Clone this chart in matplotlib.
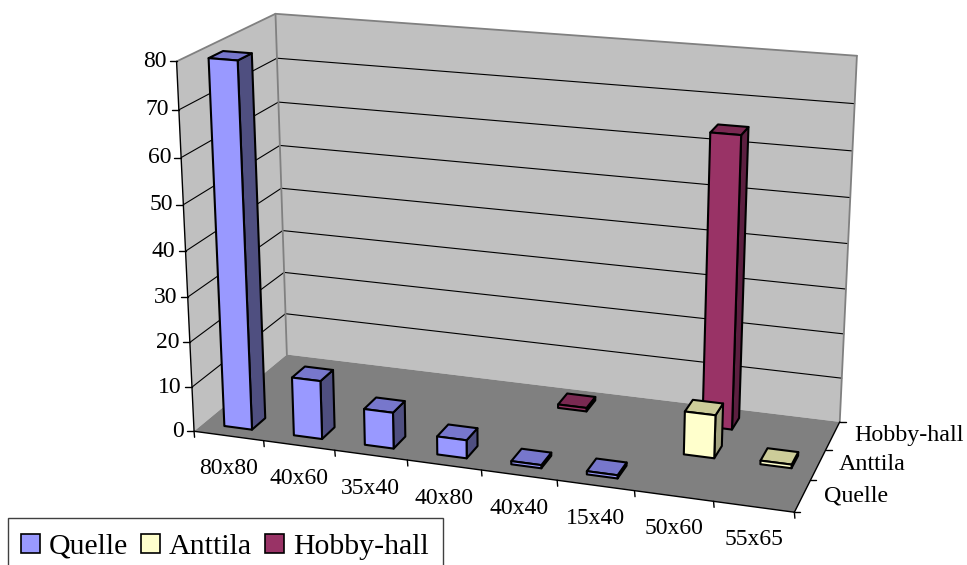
import numpy as np
import matplotlib
matplotlib.use("Agg")
import matplotlib.pyplot as plt
from matplotlib.patches import Patch, Polygon, Rectangle

categories = ["80x80", "40x60", "35x40", "40x80", "40x40", "15x40", "50x60", "55x65"]
series = ["Quelle", "Anttila", "Hobby-hall"]
quelle = [80, 13, 8, 4, 0.7, 0.7, 0, 0]
anttila = [0, 0, 0, 0, 0, 0, 9.5, 0.8]
hobby = [0, 0, 0, 0, 0.8, 0, 64.5, 0]
values = [quelle, anttila, hobby]
yticks = [0, 10, 20, 30, 40, 50, 60, 70, 80]

front = ["#9999FF", "#FFFFCC", "#993366"]
top = ["#7777CC", "#CCCC99", "#7A2952"]
side = ["#4F4F80", "#A3A380", "#5C1F40"]
VMAX = 80.0

plt.rcParams["font.family"] = ["Liberation Serif", "DejaVu Serif"]

# box corners on the page: (cat, depth, value) -> pixel, solved as one homography
corners = [
    ((0, 0, 0), (194, 431)),
    ((1, 0, 0), (794, 513)),
    ((1, 1, 0), (840, 421)),
    ((0, 1, 0), (287, 355)),
    ((0, 0, 1), (177, 61)),
    ((0, 1, 1), (275, 14)),
    ((1, 1, 1), (857, 56)),
]


def solve_view():
    rows = []
    for (a, b, c), (x, y) in corners:
        rows.append([a, b, c, 1, 0, 0, 0, 0, -x*a, -x*b, -x*c, -x])
        rows.append([0, 0, 0, 0, a, b, c, 1, -y*a, -y*b, -y*c, -y])
    m = np.linalg.svd(np.array(rows, dtype=float))[2][-1]
    return m.reshape(3, 4)


VIEW = solve_view()


def p(u, v, val=0.0):
    q = VIEW @ np.array([u, v, val / VMAX, 1.0])
    return q[0] / q[2], q[1] / q[2]


fig = plt.figure(figsize=(9.67, 5.65), dpi=100)
ax = fig.add_axes([0, 0, 1, 1])
ax.set_xlim(0, 967)
ax.set_ylim(565, 0)
ax.axis("off")


def face(pts, color, edge="none", lw=0.0, z=1):
    ax.add_patch(Polygon(pts, closed=True, facecolor=color, edgecolor=edge,
                         linewidth=lw, joinstyle="round", zorder=z))


def line(a, b, color="black", lw=0.8, z=2):
    ax.plot([a[0], b[0]], [a[1], b[1]], color=color, lw=lw, zorder=z,
            solid_capstyle="round")


# walls and floor
face([p(0, 0), p(0, 1), p(0, 1, VMAX), p(0, 0, VMAX)], "#C0C0C0")
face([p(0, 1), p(1, 1), p(1, 1, VMAX), p(0, 1, VMAX)], "#C0C0C0")
face([p(0, 0), p(1, 0), p(1, 1), p(0, 1)], "#808080")

for t in yticks[1:-1]:
    line(p(0, 0, t), p(0, 1, t))
    line(p(0, 1, t), p(1, 1, t))
line(p(0, 0, VMAX), p(0, 1, VMAX), "#808080", 1.3)
line(p(0, 1, VMAX), p(1, 1, VMAX), "#808080", 1.3)
line(p(0, 1), p(0, 1, VMAX), "#808080", 1.3)
line(p(1, 1), p(1, 1, VMAX), "#808080", 1.3)

# axes
line(p(0, 0), p(0, 0, VMAX), "black", 1.0, 3)
line(p(0, 0), p(1, 0), "black", 1.0, 3)
line(p(1, 0), p(1, 1), "black", 1.0, 3)

for t in yticks:
    x, y = p(0, 0, t)
    line((x - 7, y), (x, y), "black", 1.0, 3)
    ax.text(x - 10, y, str(t), ha="right", va="center", fontsize=17, color="black")

n = len(categories)
for i in range(n + 1):
    x, y = p(i / n, 0)
    line((x, y), (x + 0.5, y + 6), "black", 1.0, 3)
for i, name in enumerate(categories):
    x, y = p((i + 0.5) / n, 0)
    ax.text(x, y + 33, name, ha="center", va="center", fontsize=17, color="black")

for j in range(len(series) + 1):
    x, y = p(1, j / len(series))
    line((x, y), (x + 6, y), "black", 1.0, 3)
for j, name in enumerate(series):
    x, y = p(1, (j + 0.5) / len(series))
    ax.text(x + 21, y, name, ha="left", va="center", fontsize=17.3, color="black")

# bars, back row first
BAR_W = 0.40
BAR_D = 0.42
z = 10
for j in reversed(range(len(series))):
    for i in range(n):
        val = values[j][i]
        if val <= 0:
            continue
        u0 = (i + 0.5 - BAR_W / 2) / n
        u1 = (i + 0.5 + BAR_W / 2) / n
        v0 = (j + 0.5 - BAR_D / 2) / len(series)
        v1 = (j + 0.5 + BAR_D / 2) / len(series)
        face([p(u1, v0), p(u1, v1), p(u1, v1, val), p(u1, v0, val)], side[j], "black", 1.5, z)
        face([p(u0, v0, val), p(u1, v0, val), p(u1, v1, val), p(u0, v1, val)], top[j], "black", 1.5, z)
        face([p(u0, v0), p(u1, v0), p(u1, v0, val), p(u0, v0, val)], front[j], "black", 1.5, z)
        z += 1

# legend box runs off the bottom of the picture
ax.add_patch(Rectangle((8, 518), 435, 60, facecolor="white", edgecolor="#404040",
                       linewidth=1.0, zorder=40))
handles = [Patch(facecolor=front[k], edgecolor="black", linewidth=1.2) for k in range(3)]
leg = ax.legend(handles, series, ncols=3, fontsize=21.5, loc="upper left",
                bbox_to_anchor=(8 / 967, 1 - 521 / 565), borderaxespad=0,
                frameon=False,
                handlelength=0.64, handleheight=0.64, handletextpad=0.3,
                columnspacing=0.44, borderpad=0.42, labelspacing=0)
leg.set_zorder(50)

fig.savefig("out.png", dpi=100)
